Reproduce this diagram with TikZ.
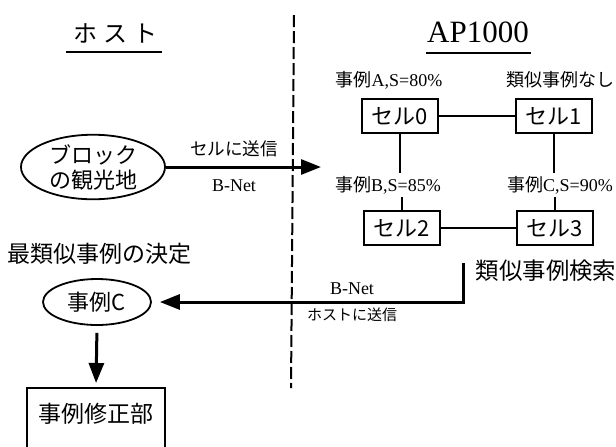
\documentclass[tikz,border=0pt]{standalone}
\usepackage{fontspec}
\setmainfont{Liberation Serif}
\newfontfamily\jp{Noto Sans CJK JP}
\usetikzlibrary{arrows.meta,shapes.geometric}

\tikzset{
  cellbox/.style={draw, line width=0.9pt, minimum width=38pt, minimum height=17pt,
    inner sep=0pt, font=\fontsize{11}{13}\selectfont},
  tag/.style={inner sep=1.5pt, font=\fontsize{9}{10}\selectfont},
  oval/.style={draw, ellipse, line width=0.9pt, inner sep=0pt, align=center},
  link/.style={line width=0.7pt},
  arrowbig/.style={line width=1.5pt, -{Triangle[length=10pt,width=7.5pt]}},
  sepline/.style={line width=1pt, dash pattern=on 6pt off 2pt},
  rule/.style={line width=0.9pt}
}

\begin{document}
\begin{tikzpicture}[x=0.5pt,y=-0.5pt]
  \useasboundingbox (0,0) rectangle (616,446);
  \clip (0,0) rectangle (616,446);
  \def\Xsep{293};
  \def\Yret{302};
  \def\Xret{463};

	% titles
	\node[font=\fontsize{12}{14}\selectfont] (host) at (115,33) {\jp ホ\hspace{3pt}ス\hspace{3pt}ト};
	\node[font=\fontsize{15.5}{17}\selectfont] (ap) at (478,32) {AP1000};
	\draw[rule] (66,52) -- (162,52);
	\draw[rule] (426,53) -- (531,53);

	% separator
	\draw[sepline] (\Xsep+1,15) -- (\Xsep-2,388);

	% cells
	\node[cellbox] (cell0) at (400,116) {\jp セル0};
	\node[cellbox] (cell1) at (554,116) {\jp セル1};
	\node[cellbox] (cell2) at (402,228) {\jp セル2};
	\node[cellbox] (cell3) at (555,228) {\jp セル3};

	% cell labels
	\node[tag] (labA) at (389,80) {{\jp 事例}A,S=80\%};
	\node[tag] (labN) at (560,80) {\jp 類似事例なし};
	\node[tag] (labB) at (388,185) {{\jp 事例}B,S=85\%};
	\node[tag] (labC) at (560,185) {{\jp 事例}C,S=90\%};

	% cell links
	\draw[link] (cell0) -- (cell1);
	\draw[link] (cell2) -- (cell3);
	\draw[link] (cell0.south) -- (labB.north -| cell0.south);
	\draw[link] (labB.south -| cell2.north) -- (cell2.north);
	\draw[link] (cell1.south) -- (labC.north -| cell1.south);
	\draw[link] (labC.south -| cell3.north) -- (cell3.north);

	% host side
	\node[oval, minimum width=72pt, minimum height=32pt,
	      font=\fontsize{11}{12.5}\selectfont] (blk) at (93,167) {\jp ブロック\\\jp の観光地};
	\node[font=\fontsize{11.5}{13}\selectfont] (best) at (100,254) {\jp 最類似事例の決定};
	\node[oval, minimum width=54pt, minimum height=23pt,
	      font=\fontsize{11}{13}\selectfont] (caseC) at (97,\Yret) {\jp 事例C};
	\node[draw, line width=0.9pt, anchor=north, minimum width=69pt, inner ysep=7pt,
	      text height=10.5pt, text depth=28pt, font=\fontsize{11.5}{13}\selectfont]
	      (fix) at (96,387) {\jp 事例修正部};

	% arrows
	\coordinate (tipA) at (321,167);
	\coordinate (retTop) at (\Xret,263);
	\coordinate (retBot) at (\Xret,\Yret);
	\draw[arrowbig] (blk.east) -- (tipA);
	\draw[arrowbig, shorten >=4pt] (retTop) -- (retBot) -- (caseC.east);
	\draw[arrowbig, shorten <=3.5pt, shorten >=2pt] (caseC.south) -- (fix.north);

	% arrow labels
	\node[tag, font=\fontsize{8.8}{10}\selectfont] (send) at (234,149) {\jp セルに送信};
	\node[font=\fontsize{9}{10}\selectfont] (netA) at (234,186) {B-Net};
	\node[font=\fontsize{9}{10}\selectfont] (netB) at (352,289) {B-Net};
	\node[tag, font=\fontsize{7.5}{10}\selectfont] (back) at (352,315) {\jp ホストに送信};
	\node[font=\fontsize{11.7}{13}\selectfont] (search) at (546,271) {\jp 類似事例検索};

\end{tikzpicture}
\end{document}
